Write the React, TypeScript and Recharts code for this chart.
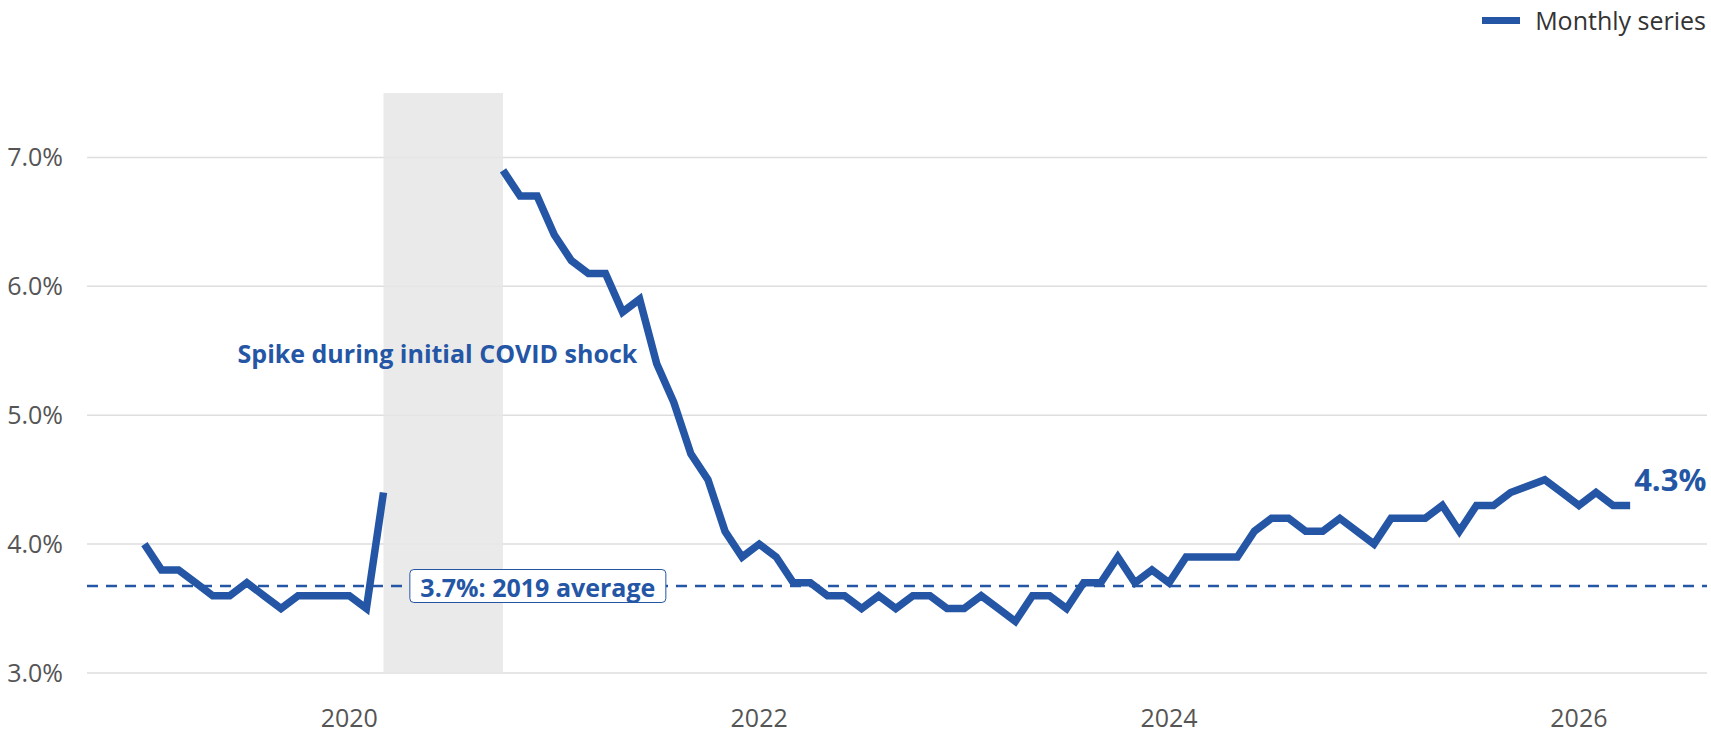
import React from "react";
import {
  LineChart,
  Line,
  XAxis,
  YAxis,
  CartesianGrid,
  ReferenceArea,
  ReferenceLine,
  ReferenceDot,
} from "recharts";

const BLUE = "#2456a5";
const FONT = "'Open Sans', 'Noto Sans', sans-serif";

// monthly rate, % (null = not shown)
const years = [2019, 2020, 2021, 2022, 2023, 2024, 2025, 2026];
const rate2019 = [4.0, 3.8, 3.8, 3.7, 3.6, 3.6, 3.7, 3.6, 3.5, 3.6, 3.6, 3.6];
const rate2020 = [3.6, 3.5, 4.4, null, null, null, null, null, null, 6.9, 6.7, 6.7];
const rate2021 = [6.4, 6.2, 6.1, 6.1, 5.8, 5.9, 5.4, 5.1, 4.7, 4.5, 4.1, 3.9];
const rate2022 = [4.0, 3.9, 3.7, 3.7, 3.6, 3.6, 3.5, 3.6, 3.5, 3.6, 3.6, 3.5];
const rate2023 = [3.5, 3.6, 3.5, 3.4, 3.6, 3.6, 3.5, 3.7, 3.7, 3.9, 3.7, 3.8];
const rate2024 = [3.7, 3.9, 3.9, 3.9, 3.9, 4.1, 4.2, 4.2, 4.1, 4.1, 4.2, 4.1];
const rate2025 = [4.0, 4.2, 4.2, 4.2, 4.3, 4.1, 4.3, 4.3, 4.4, null, 4.5, 4.4];
const rate2026 = [4.3, 4.4, 4.3, 4.3];
const monthlyRates = [rate2019, rate2020, rate2021, rate2022, rate2023, rate2024, rate2025, rate2026];

// months with no release: dropped, so the line runs straight across them
const skippedMonths = ["2025-10"];

const xTicks = [2020, 2022, 2024, 2026];
const yTicks = [3, 4, 5, 6, 7];
const covidStart = 2020 + 2 / 12; // Mar 2020
const covidEnd = 2020 + 9 / 12; // Oct 2020
const spikeNote = "Spike during initial COVID shock";

const data = years
  .flatMap((yr, i) =>
    monthlyRates[i].map((v, m) => ({
      key: `${yr}-${String(m + 1).padStart(2, "0")}`,
      t: yr + m / 12,
      rate: v,
    }))
  )
  .filter((d) => !skippedMonths.includes(d.key));

const avg2019 = rate2019.reduce((s, v) => s + v, 0) / rate2019.length;
const avgLabel = `${avg2019.toFixed(1)}%: 2019 average`;
const last = data[data.length - 1];

const tickStyle = { fill: "#555", fontSize: 25, fontFamily: FONT };

function SpikeLabel({ viewBox }: any) {
  return (
    <text
      x={viewBox.x}
      y={viewBox.y}
      textAnchor="middle"
      dominantBaseline="central"
      fill={BLUE}
      fontSize={25}
      fontWeight={700}
      fontFamily={FONT}
    >
      {spikeNote}
    </text>
  );
}

function AvgLabel({ viewBox }: any) {
  const w = 256;
  const h = 33;
  return (
    <g>
      <rect
        x={viewBox.x - w / 2}
        y={viewBox.y - h / 2}
        width={w}
        height={h}
        rx={4}
        fill="#fff"
        stroke={BLUE}
        strokeWidth={1}
      />
      <text
        x={viewBox.x}
        y={viewBox.y + 1}
        textAnchor="middle"
        dominantBaseline="central"
        fill={BLUE}
        fontSize={25}
        fontWeight={700}
        fontFamily={FONT}
      >
        {avgLabel}
      </text>
    </g>
  );
}

function LastLabel({ viewBox }: any) {
  return (
    <text
      x={viewBox.x + 4}
      y={viewBox.y - 14}
      fill={BLUE}
      fontSize={31}
      fontWeight={700}
      fontFamily={FONT}
    >
      {`${last.rate?.toFixed(1)}%`}
    </text>
  );
}

export default function App() {
  return (
    <div style={{ position: "relative", width: 1711, height: 734, background: "#fff", fontFamily: FONT }}>
      <style>{"body{margin:0}"}</style>
      <LineChart width={1711} height={734} data={data} margin={{ top: 93, right: 4, bottom: 0, left: 0 }}>
        <CartesianGrid vertical={false} stroke="#dedede" strokeWidth={1.5} syncWithTicks />
        <XAxis
          type="number"
          dataKey="t"
          domain={[2018.72, 2026.625]}
          ticks={xTicks}
          tickFormatter={(v) => String(v)}
          axisLine={false}
          tickLine={false}
          tick={tickStyle}
          tickMargin={30}
          height={61}
          allowDataOverflow
        />
        <YAxis
          domain={[3, 7.5]}
          ticks={yTicks}
          tickFormatter={(v) => `${Number(v).toFixed(1)}%`}
          axisLine={false}
          tickLine={false}
          tick={tickStyle}
          tickMargin={18}
          width={87}
          allowDataOverflow
        />
        <ReferenceArea x1={covidStart} x2={covidEnd} y1={3} y2={7.5} fill="#e6e6e6" fillOpacity={0.85} stroke="none" />
        <ReferenceLine y={avg2019} stroke={BLUE} strokeWidth={2.5} strokeDasharray="11 8" />
        <Line
          type="linear"
          dataKey="rate"
          stroke={BLUE}
          strokeWidth={7.5}
          dot={false}
          activeDot={false}
          connectNulls={false}
          isAnimationActive={false}
        />
        <ReferenceDot x={2020.92} y={avg2019} r={0} fill="none" stroke="none" label={AvgLabel} />
        <ReferenceDot x={2020.43} y={5.48} r={0} fill="none" stroke="none" label={SpikeLabel} />
        <ReferenceDot x={last.t} y={last.rate as number} r={0} fill="none" stroke="none" label={LastLabel} />
      </LineChart>
      <div style={{ position: "absolute", top: 4, right: 5, display: "flex", alignItems: "center", gap: 15 }}>
        <span style={{ display: "inline-block", width: 38, height: 7, background: BLUE }} />
        <span style={{ fontSize: 25, color: "#333", lineHeight: "32px" }}>Monthly series</span>
      </div>
    </div>
  );
}
